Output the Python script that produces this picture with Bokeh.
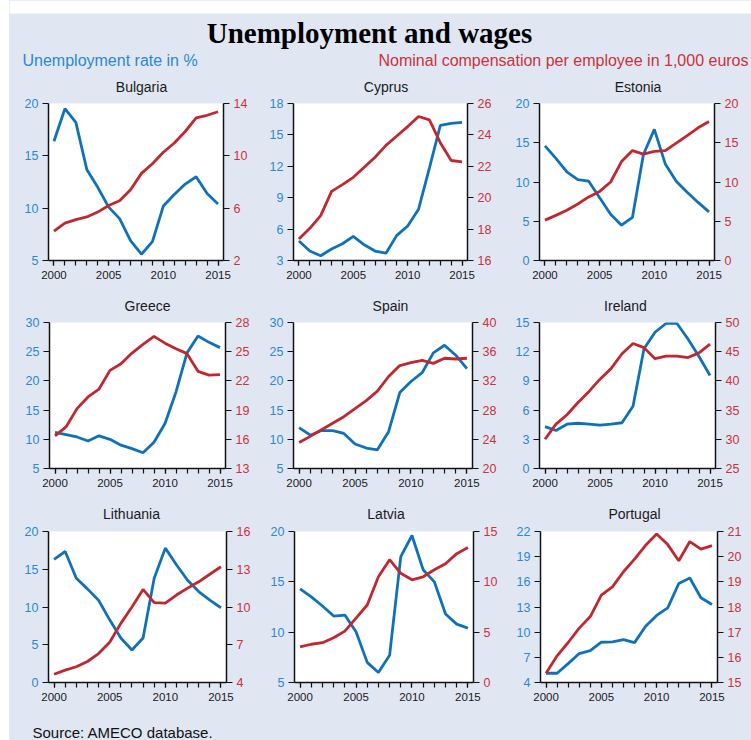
from bokeh.plotting import figure
from bokeh.layouts import column, row
from bokeh.models import (Range1d, LinearAxis, FixedTicker, Label, BoxAnnotation)
from bokeh.embed import file_html
from bokeh.resources import INLINE

# ---------------- data ----------------
years = list(range(2000, 2016))
countries = ["Bulgaria", "Cyprus", "Estonia", "Greece", "Spain", "Ireland",
             "Lithuania", "Latvia", "Portugal"]

bg_unemp = [16.4, 19.5, 18.2, 13.7, 12.0, 10.1, 9.0, 6.9, 5.6, 6.8, 10.2, 11.3, 12.3, 13.0, 11.4, 10.4]
bg_comp = [4.25, 4.86, 5.13, 5.33, 5.7, 6.2, 6.57, 7.4, 8.66, 9.4, 10.27, 10.98, 11.86, 12.9, 13.1, 13.37]

cy_unemp = [4.86, 3.9, 3.45, 4.1, 4.6, 5.3, 4.5, 3.9, 3.7, 5.4, 6.3, 7.9, 11.85, 15.9, 16.1, 16.2]
cy_comp = [17.37, 18.05, 18.86, 20.4, 20.83, 21.3, 21.94, 22.58, 23.33, 23.93, 24.53, 25.17, 24.96, 23.5, 22.37, 22.28]

ee_unemp = [14.6, 13.0, 11.3, 10.3, 10.1, 8.0, 5.9, 4.5, 5.5, 13.5, 16.7, 12.3, 10.1, 8.7, 7.4, 6.2]
ee_comp = [5.14, 5.75, 6.4, 7.2, 8.1, 8.8, 10.0, 12.6, 14.0, 13.55, 13.9, 14.0, 14.95, 15.9, 16.9, 17.7]

gr_unemp = [11.2, 10.8, 10.4, 9.7, 10.6, 10.0, 9.0, 8.4, 7.7, 9.5, 12.7, 18.1, 24.8, 27.7, 26.6, 25.7]
gr_comp = [16.35, 17.27, 19.15, 20.35, 21.16, 23.08, 23.76, 24.86, 25.75, 26.57, 25.88, 25.3, 24.8, 22.98, 22.6, 22.64]

es_unemp = [12.0, 10.7, 11.5, 11.5, 11.0, 9.2, 8.5, 8.2, 11.3, 18.0, 19.9, 21.4, 24.8, 26.1, 24.4, 22.1]
es_comp = [23.55, 24.4, 25.3, 26.2, 27.1, 28.2, 29.3, 30.6, 32.6, 34.1, 34.5, 34.8, 34.4, 35.1, 35.0, 35.1]

ie_unemp = [4.3, 3.9, 4.55, 4.65, 4.55, 4.45, 4.55, 4.7, 6.4, 12.3, 14.0, 14.9, 14.9, 13.3, 11.5, 9.55]
ie_comp = [30.0, 32.6, 34.2, 36.3, 38.2, 40.3, 42.1, 44.65, 46.4, 45.7, 43.8, 44.25, 44.25, 44.0, 44.8, 46.3]

lt_unemp = [16.3, 17.35, 13.8, 12.4, 10.9, 8.3, 5.9, 4.3, 5.9, 13.8, 17.8, 15.6, 13.55, 12.05, 10.9, 9.9]
lt_comp = [4.66, 4.98, 5.25, 5.67, 6.3, 7.2, 8.7, 10.0, 11.4, 10.35, 10.3, 10.95, 11.5, 12.0, 12.6, 13.2]

lv_unemp = [14.3, 13.5, 12.6, 11.6, 11.7, 10.05, 7.0, 6.0, 7.7, 17.5, 19.6, 16.2, 15.0, 11.8, 10.8, 10.4]
lv_comp = [3.55, 3.8, 3.95, 4.45, 5.1, 6.4, 7.7, 10.5, 12.2, 10.85, 10.2, 10.5, 11.2, 11.8, 12.8, 13.4]

pt_unemp = [5.1, 5.1, 6.25, 7.45, 7.8, 8.8, 8.85, 9.1, 8.75, 10.7, 12.0, 12.9, 15.8, 16.45, 14.1, 13.3]
pt_comp = [15.37, 16.06, 16.59, 17.16, 17.62, 18.47, 18.8, 19.4, 19.9, 20.45, 20.9, 20.48, 19.84, 20.6, 20.3, 20.44]

unemp = [bg_unemp, cy_unemp, ee_unemp, gr_unemp, es_unemp, ie_unemp, lt_unemp, lv_unemp, pt_unemp]
comp = [bg_comp, cy_comp, ee_comp, gr_comp, es_comp, ie_comp, lt_comp, lv_comp, pt_comp]

left_ticks = [
    [5, 10, 15, 20], [3, 6, 9, 12, 15, 18], [0, 5, 10, 15, 20],
    [5, 10, 15, 20, 25, 30], [5, 10, 15, 20, 25, 30], [0, 3, 6, 9, 12, 15],
    [0, 5, 10, 15, 20], [5, 10, 15, 20], [4, 7, 10, 13, 16, 19, 22],
]
right_ticks = [
    [2, 6, 10, 14], [16, 18, 20, 22, 24, 26], [0, 5, 10, 15, 20],
    [13, 16, 19, 22, 25, 28], [20, 24, 28, 32, 36, 40], [25, 30, 35, 40, 45, 50],
    [4, 7, 10, 13, 16], [0, 5, 10, 15], [15, 16, 17, 18, 19, 20, 21],
]
x_major = [2000, 2005, 2010, 2015]

title_text = "Unemployment and wages"
left_label = "Unemployment rate in %"
right_label = "Nominal compensation per employee in 1,000 euros"
source_text = "Source: AMECO database."

# ---------------- style / layout ----------------
BG = "#e0e7f3"
BLUE = "#0f72b9"
RED = "#c1272f"
BLUE_TXT = "#2b88cc"
RED_TXT = "#c8323b"
FONT = "Liberation Sans"
W = 742          # width of the light-blue area (page x 9..751)

# per panel: (cell width, border left, border right)
cols = [(249, 39, 35), (247, 35, 38), (246, 34, 37),
        (249, 40, 33), (247, 35, 33), (246, 34, 36),
        (249, 39, 32), (247, 36, 32), (246, 35, 34)]
# per panel row: (height, border top, border bottom)
rows_spec = [(190, 7, 26), (180, 8, 26), (192, 8, 33)]
# panel-title centres, in pixels inside the light-blue area
title_x = [132, 376.5, 628.5, 138, 381, 616, 122, 376.5, 625]


def style_axis(ax, color):
    ax.axis_line_color = "#111111"
    ax.axis_line_width = 1.5
    ax.major_tick_line_color = "#111111"
    ax.major_tick_line_width = 1.2
    ax.major_tick_out = 6
    ax.major_tick_in = 0
    ax.minor_tick_line_color = None
    ax.major_label_text_color = color
    ax.major_label_text_font = FONT
    ax.major_label_text_font_size = "12.5px"
    ax.major_label_standoff = 4


def panel(i):
    w, bl, br = cols[i]
    h, bt, bb = rows_spec[i // 3]
    lt, rt = left_ticks[i], right_ticks[i]
    p = figure(width=w, height=h, x_range=Range1d(1999.5, 2015.5),
               y_range=Range1d(lt[0], lt[-1]), title=None,
               output_backend="svg", toolbar_location=None,
               min_border_left=bl, min_border_right=br,
               min_border_top=bt, min_border_bottom=bb,
               background_fill_color="white", border_fill_color=BG,
               outline_line_color=None, y_axis_type=None, x_axis_type=None)
    p.extra_y_ranges = {"r": Range1d(rt[0], rt[-1])}

    lax = LinearAxis(ticker=FixedTicker(ticks=lt))
    style_axis(lax, BLUE_TXT)
    p.add_layout(lax, "left")
    rax = LinearAxis(y_range_name="r", ticker=FixedTicker(ticks=rt))
    style_axis(rax, RED_TXT)
    p.add_layout(rax, "right")
    bax = LinearAxis(ticker=FixedTicker(ticks=x_major, minor_ticks=years))
    style_axis(bax, "#1a1a1a")
    bax.minor_tick_line_color = "#111111"
    bax.minor_tick_line_width = 1.2
    bax.major_tick_out = 5
    bax.minor_tick_out = 5
    bax.minor_tick_in = 0
    bax.major_label_text_font_size = "11.5px"
    bax.major_label_standoff = 5
    p.add_layout(bax, "below")

    p.ygrid.ticker = FixedTicker(ticks=lt)
    p.ygrid.grid_line_color = "#8d8d8d"
    p.ygrid.grid_line_width = 1.5
    p.xgrid.grid_line_color = None

    p.line(years, unemp[i], line_color=BLUE, line_width=2.8)
    p.line(years, comp[i], line_color=RED, line_width=2.8, y_range_name="r")
    return p


def blank(w, h, fill):
    f = figure(width=w, height=h, x_range=Range1d(0, w), y_range=Range1d(0, h),
               title=None, output_backend="svg", toolbar_location=None, min_border=0,
               x_axis_type=None, y_axis_type=None, outline_line_color=None,
               background_fill_color=fill, border_fill_color=fill)
    f.grid.grid_line_color = None
    return f


def add_titles(f, idxs, yc):
    for i in idxs:
        f.add_layout(Label(x=title_x[i], y=yc, text=countries[i], text_font=FONT,
                           text_font_size="14px", text_color="#1a1a1a",
                           text_align="center", text_baseline="middle"))


panels = [panel(i) for i in range(9)]

# header (page y 0..96): white top band, main title, two subtitles, row-1 panel titles
HH = 96
hdr = blank(W, HH, BG)
hdr.add_layout(BoxAnnotation(bottom=HH - 13, fill_color="white", fill_alpha=1, line_color=None))
hdr.add_layout(Label(x=360, y=HH - 32, text=title_text, text_font="Liberation Serif",
                     text_font_style="bold", text_font_size="29px", text_color="#000000",
                     text_align="center", text_baseline="middle"))
hdr.add_layout(Label(x=13, y=HH - 60, text=left_label, text_font=FONT, text_font_size="16px",
                     text_color=BLUE_TXT, text_align="left", text_baseline="middle"))
hdr.add_layout(Label(x=739, y=HH - 60, text=right_label, text_font=FONT, text_font_size="16px",
                     text_color=RED_TXT, text_align="right", text_baseline="middle"))
add_titles(hdr, [0, 1, 2], HH - 86.5)

# title strips for rows 2 and 3
S2 = 28
strip2 = blank(W, S2, BG)
add_titles(strip2, [3, 4, 5], S2 - 19)
S3 = 29
strip3 = blank(W, S3, BG)
add_titles(strip3, [6, 7, 8], S3 - 19)

FH = 25
ftr = blank(W, FH, BG)
ftr.add_layout(Label(x=23, y=FH - 17, text=source_text, text_font=FONT, text_font_size="15px",
                     text_color="#111111", text_align="left", text_baseline="middle"))

edge = blank(9, 740, "white")

bgstyle = {"background-color": BG}
main = column(hdr,
              row(*panels[0:3], styles=bgstyle),
              strip2,
              row(*panels[3:6], styles=bgstyle),
              strip3,
              row(*panels[6:9], styles=bgstyle),
              ftr, styles=bgstyle)
layout = row(edge, main, styles={"background-color": "white"})

open("out.html", "w").write(file_html(layout, INLINE))
